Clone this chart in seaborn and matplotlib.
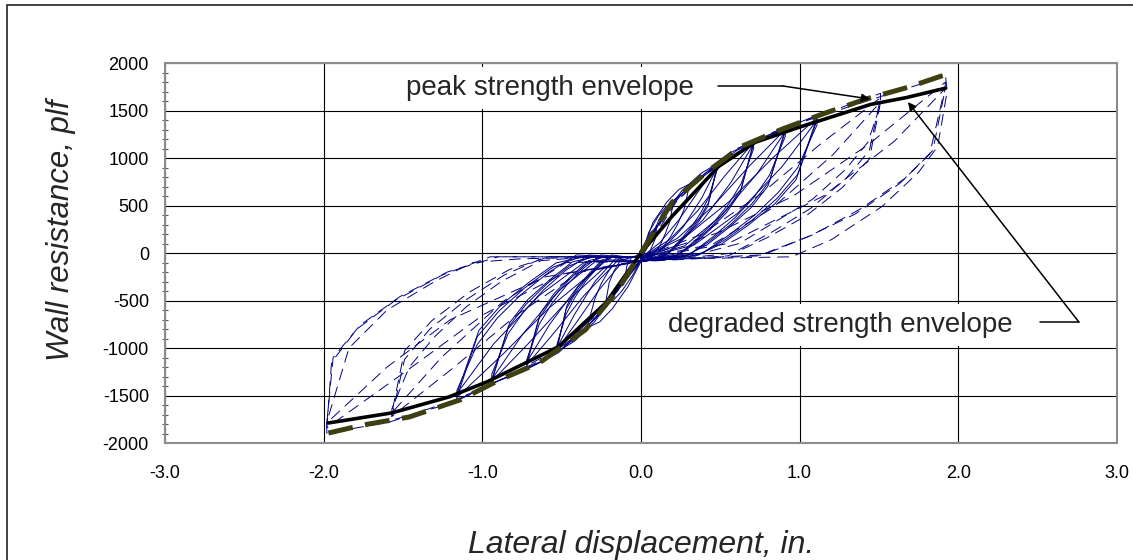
import matplotlib
matplotlib.use("Agg")
import matplotlib.pyplot as plt
import pandas as pd
import seaborn as sns
from matplotlib.patches import Rectangle
from matplotlib.ticker import MultipleLocator, FormatStrFormatter

# hysteresis cycles, (displacement in., resistance plf)
# small cycles
c010 = [(0, -20), (0.03, 120), (0.06, 210), (0.10, 280), (0.09, 150), (0.06, 30), (0.02, -40),
        (0, -60), (-0.03, -130), (-0.06, -200), (-0.10, -270), (-0.09, -140), (-0.06, -50), (-0.02, -20), (0, 0)]
c020 = [(0, -30), (0.05, 220), (0.11, 390), (0.16, 490), (0.20, 530), (0.20, 490), (0.18, 320), (0.15, 190),
        (0.12, 80), (0.08, -10), (0.04, -60), (0, -80), (-0.055, -240), (-0.12, -400), (-0.175, -500),
        (-0.22, -540), (-0.22, -500), (-0.20, -310), (-0.17, -190), (-0.13, -80), (-0.09, -60), (-0.04, -40), (0, -40)]
c030 = [(0, -40), (0.075, 320), (0.165, 540), (0.24, 670), (0.30, 720), (0.30, 670), (0.27, 450), (0.23, 300),
        (0.19, 180), (0.14, 60), (0.06, -60), (0, -90), (-0.08, -350), (-0.18, -585), (-0.26, -725),
        (-0.33, -780), (-0.33, -725), (-0.29, -480), (-0.25, -320), (-0.20, -180), (-0.14, -60), (-0.07, -40), (0, -50)]

# 0.5 in. level
c048a = [(0, -50), (0.06, 160), (0.14, 390), (0.26, 660), (0.38, 840), (0.48, 940), (0.48, 875), (0.427, 583),
         (0.374, 414), (0.312, 263), (0.24, 122), (0.168, 0), (0.086, -40),
         (0, -80), (-0.06, -160), (-0.16, -420), (-0.29, -720), (-0.42, -930), (-0.53, -1040), (-0.53, -967),
         (-0.472, -645), (-0.413, -458), (-0.345, -291), (-0.265, -135), (-0.186, -20), (-0.095, -40), (0, -40)]
c048b = [(0, -50), (0.12, 110), (0.24, 350), (0.36, 645), (0.48, 920), (0.427, 534), (0.37, 368), (0.302, 221),
         (0.23, 92), (0.158, -20), (0.082, -50),
         (0, -80), (-0.13, -120), (-0.265, -390), (-0.40, -715), (-0.53, -1020), (-0.472, -592), (-0.408, -408),
         (-0.334, -245), (-0.254, -102), (-0.175, -40), (-0.09, -40), (0, -40)]
c048c = [(0, -60), (0.145, 55), (0.265, 270), (0.385, 585), (0.48, 900), (0.422, 495), (0.365, 333), (0.293, 189),
         (0.221, 63), (0.149, -30), (0.072, -60),
         (0, -90), (-0.16, -60), (-0.29, -300), (-0.42, -650), (-0.53, -1000), (-0.466, -550), (-0.403, -370),
         (-0.323, -210), (-0.244, -70), (-0.164, -40), (-0.08, -40), (0, -40)]

# 0.7 in. level
c071a = [(0, -50), (0.085, 230), (0.21, 560), (0.39, 820), (0.57, 1060), (0.71, 1180), (0.71, 1097), (0.632, 732),
         (0.554, 519), (0.462, 330), (0.355, 153), (0.249, 0), (0.128, -40),
         (0, -80), (-0.085, -230), (-0.215, -560), (-0.40, -880), (-0.575, -1100), (-0.72, -1210), (-0.72, -1125),
         (-0.641, -750), (-0.562, -532), (-0.468, -339), (-0.36, -157), (-0.252, -20), (-0.13, -40), (0, -40)]
c071b = [(0, -50), (0.18, 140), (0.355, 440), (0.53, 815), (0.71, 1165), (0.632, 676), (0.547, 466), (0.447, 280),
         (0.341, 117), (0.234, -20), (0.121, -50),
         (0, -80), (-0.18, -140), (-0.36, -450), (-0.54, -825), (-0.72, -1180), (-0.641, -684), (-0.554, -472),
         (-0.454, -283), (-0.346, -118), (-0.238, -40), (-0.122, -40), (0, -40)]
c071c = [(0, -60), (0.21, 70), (0.39, 345), (0.57, 750), (0.71, 1150), (0.625, 633), (0.54, 426), (0.433, 242),
         (0.327, 81), (0.22, -30), (0.107, -60),
         (0, -90), (-0.215, -70), (-0.395, -345), (-0.575, -750), (-0.72, -1150), (-0.634, -633), (-0.547, -426),
         (-0.439, -242), (-0.331, -81), (-0.223, -40), (-0.108, -40), (0, -40)]

# 0.9 in. level
c091a = [(0, -50), (0.11, 300), (0.27, 650), (0.50, 940), (0.73, 1190), (0.91, 1320), (0.91, 1228), (0.81, 818),
         (0.71, 581), (0.592, 370), (0.455, 172), (0.319, 0), (0.164, -40),
         (0, -80), (-0.11, -300), (-0.28, -680), (-0.52, -1050), (-0.75, -1250), (-0.94, -1370), (-0.94, -1274),
         (-0.837, -849), (-0.733, -603), (-0.611, -384), (-0.47, -178), (-0.329, -20), (-0.169, -40), (0, -40)]
c091b = [(0, -50), (0.23, 155), (0.455, 495), (0.68, 910), (0.91, 1300), (0.81, 754), (0.70, 520), (0.573, 312),
         (0.437, 130), (0.30, -20), (0.155, -50),
         (0, -80), (-0.235, -160), (-0.47, -515), (-0.705, -945), (-0.94, -1350), (-0.837, -783), (-0.724, -540),
         (-0.592, -324), (-0.451, -135), (-0.31, -40), (-0.16, -40), (0, -40)]
c091c = [(0, -60), (0.275, 75), (0.50, 385), (0.73, 830), (0.91, 1280), (0.80, 704), (0.692, 474), (0.555, 269),
         (0.419, 90), (0.282, -30), (0.137, -60),
         (0, -90), (-0.28, -80), (-0.52, -400), (-0.75, -865), (-0.94, -1330), (-0.827, -732), (-0.714, -492),
         (-0.573, -279), (-0.432, -93), (-0.291, -40), (-0.141, -40), (0, -40)]

# 1.1 in. level
c111a = [(0, -50), (0.135, 420), (0.335, 750), (0.61, 1085), (0.89, 1300), (1.11, 1450), (1.11, 1349), (0.988, 899),
         (0.866, 638), (0.722, 406), (0.555, 189), (0.389, 0), (0.20, -40),
         (0, -80), (-0.14, -380), (-0.35, -800), (-0.64, -1156), (-0.93, -1370), (-1.16, -1555), (-1.16, -1446),
         (-1.032, -964), (-0.905, -684), (-0.754, -435), (-0.58, -202), (-0.406, -20), (-0.209, -40), (0, -40)]
c111b = [(0, -50), (0.28, 170), (0.555, 540), (0.83, 1000), (1.11, 1425), (0.988, 827), (0.855, 570), (0.699, 342),
         (0.533, 143), (0.366, -20), (0.189, -50),
         (0, -80), (-0.29, -180), (-0.58, -580), (-0.87, -1065), (-1.16, -1520), (-1.032, -882), (-0.893, -608),
         (-0.731, -365), (-0.557, -152), (-0.383, -40), (-0.197, -40), (0, -40)]
c111c = [(0, -60), (0.335, 85), (0.61, 420), (0.89, 910), (1.11, 1400), (0.977, 770), (0.844, 518), (0.677, 294),
         (0.511, 98), (0.344, -30), (0.167, -60),
         (0, -90), (-0.35, -90), (-0.64, -445), (-0.93, -960), (-1.16, -1480), (-1.021, -814), (-0.882, -548),
         (-0.708, -311), (-0.534, -104), (-0.36, -40), (-0.174, -40), (0, -40)]

# 1.5 in. level
c151a = [(0, -50), (0.18, 480), (0.455, 890), (0.83, 1270), (1.21, 1500), (1.51, 1680), (1.51, 1560), (1.43, 1165),
         (1.29, 880), (1.08, 564), (0.87, 353), (0.62, 100), (0.30, -40),
         (0, -80), (-0.19, -480), (-0.47, -960), (-0.865, -1320), (-1.255, -1610), (-1.57, -1760), (-1.57, -1640),
         (-1.46, -1200), (-1.30, -880), (-1.10, -565), (-0.88, -300), (-0.63, -80), (-0.31, -40), (0, -40)]
c151b = [(0, -50), (0.38, 195), (0.755, 620), (1.13, 1145), (1.51, 1635), (1.44, 1080), (1.29, 780), (1.07, 470),
         (0.83, 225), (0.58, 0), (0.30, -50),
         (0, -80), (-0.39, -205), (-0.785, -655), (-1.18, -1205), (-1.57, -1720), (-1.49, -1120), (-1.33, -800),
         (-1.10, -490), (-0.86, -230), (-0.60, -40), (-0.31, -40), (0, -40)]
c151c = [(0, -60), (0.455, 95), (0.83, 475), (1.21, 1035), (1.51, 1590), (1.44, 990), (1.27, 690), (1.04, 390),
         (0.80, 165), (0.55, -30), (0.27, -60),
         (0, -90), (-0.47, -100), (-0.865, -505), (-1.255, -1095), (-1.57, -1683), (-1.49, -1030), (-1.32, -715),
         (-1.08, -410), (-0.83, -175), (-0.58, -40), (-0.28, -40), (0, -40)]

# 1.9 in. level
c192a = [(0, -50), (0.23, 560), (0.575, 1080), (1.055, 1400), (1.535, 1660), (1.92, 1860), (1.93, 1700), (1.87, 1120),
         (1.75, 850), (1.52, 490), (1.20, 140), (0.95, -40), (0.62, -50), (0.30, -60),
         (0, -80), (-0.24, -600), (-0.595, -1100), (-1.09, -1500), (-1.585, -1780), (-1.98, -1895), (-1.98, -1780),
         (-1.84, -1000), (-1.60, -600), (-1.30, -300), (-1.06, -100), (-0.75, -60), (-0.40, -50), (0, -40)]
c192b = [(0, -50), (0.48, 210), (0.96, 600), (1.44, 1150), (1.92, 1800), (1.91, 1660), (1.84, 1080), (1.66, 780),
         (1.38, 460), (1.08, 190), (0.77, -20), (0.38, -50),
         (0, -80), (-0.495, -220), (-0.99, -645), (-1.485, -1250), (-1.98, -1840), (-1.95, -1150), (-1.79, -800),
         (-1.55, -500), (-1.25, -230), (-0.95, -40), (-0.40, -40), (0, -40)]
c192c = [(0, -60), (0.55, 100), (1.15, 600), (1.60, 1180), (1.92, 1735), (1.90, 1620), (1.82, 1040), (1.63, 730),
         (1.35, 410), (1.05, 170), (0.74, -30), (0.35, -60),
         (0, -90), (-0.60, -250), (-1.20, -700), (-1.60, -1200), (-1.98, -1789), (-1.94, -1100), (-1.77, -760),
         (-1.52, -460), (-1.22, -200), (-0.90, -40), (-0.40, -40), (0, -40)]

solid_cycles = [c010, c020, c030, c048a, c048b, c048c, c071a, c071b, c071c,
                c091a, c091b, c091c, c111a, c111b, c111c]
dashed_cycles = [c151a, c151b, c151c, c192a, c192b, c192c]

# envelopes
peak_x = [-1.97, -1.75, -1.46, -1.14, -0.89, -0.64, -0.35, -0.15, 0.0, 0.195, 0.41, 0.635, 0.887, 1.14, 1.415, 1.685, 1.89, 1.92]
peak_y = [-1895, -1810, -1726, -1546, -1335, -1156, -808, -400, 0, 532, 848, 1123, 1302, 1460, 1619, 1745, 1861, 1875]
degr_x = [-1.97, -1.57, -1.21, -0.97, -0.52, -0.22, 0.0, 0.195, 0.49, 0.72, 0.99, 1.45, 1.67, 1.92]
degr_y = [-1789, -1683, -1515, -1356, -987, -523, 0, 384, 912, 1165, 1320, 1565, 1635, 1735]


def to_frame(cycles):
    rows = []
    for i, pts in enumerate(cycles):
        for d, f in pts:
            rows.append({'cycle': i, 'disp': d, 'load': f})
    return pd.DataFrame(rows)


sns.set_style("white")
plt.rcParams['font.family'] = ['Liberation Sans', 'DejaVu Sans']
plt.rcParams['axes.unicode_minus'] = False

fig = plt.figure(figsize=(11.33, 5.6), dpi=100)
ax = fig.add_axes([0.1456, 0.2089, 0.8402, 0.6786])

sns.lineplot(data=to_frame(solid_cycles), x='disp', y='load', units='cycle', estimator=None, sort=False,
             color='#000080', lw=0.7, ax=ax)
sns.lineplot(data=to_frame(dashed_cycles), x='disp', y='load', units='cycle', estimator=None, sort=False,
             color='#000080', lw=0.7, linestyle=(0, (12, 7)), ax=ax)
sns.lineplot(x=degr_x, y=degr_y, sort=False, color='black', lw=2.6, ax=ax)
sns.lineplot(x=peak_x, y=peak_y, sort=False, color='#3f3f14', lw=3.6, linestyle=(0, (5, 2.5)), ax=ax)

ax.set_xlim(-3, 3)
ax.set_ylim(-2000, 2000)
ax.xaxis.set_major_locator(MultipleLocator(1.0))
ax.xaxis.set_major_formatter(FormatStrFormatter('%.1f'))
ax.yaxis.set_major_locator(MultipleLocator(500))
ax.yaxis.set_minor_locator(MultipleLocator(100))
ax.grid(True, which='major', color='black', lw=0.8)
ax.set_axisbelow(True)
for s in ax.spines.values():
    s.set_color('#8c8c8c')
    s.set_linewidth(1.5)
ax.tick_params(axis='both', which='both', direction='inout', colors='#555555', labelcolor='black', labelsize=13)
ax.tick_params(axis='both', which='major', length=7, width=1)
ax.tick_params(axis='y', which='minor', length=4, width=0.8, left=True)
ax.tick_params(axis='x', pad=12)
ax.tick_params(axis='y', pad=8)

ax.set_xlabel('Lateral displacement, in.', fontsize=23, style='italic', va='center')
ax.set_ylabel('Wall resistance, plf', fontsize=22.5, style='italic', va='center')
ax.xaxis.set_label_coords(0.5, -0.268)
ax.yaxis.set_label_coords(-0.109, 0.56)

box = dict(boxstyle='square,pad=0.3', fc='white', ec='none')
ax.text(-0.573, 1737, 'peak strength envelope', fontsize=20, ha='center', va='center', bbox=box, zorder=5)
ax.plot([0.485, 0.895], [1758, 1758], color='black', lw=1.1, zorder=6)
ax.annotate('', xy=(1.443, 1621), xytext=(0.895, 1758),
            arrowprops=dict(arrowstyle='-|>', color='black', lw=1.1, mutation_scale=12, shrinkA=0, shrinkB=0),
            zorder=6)

ax.text(1.254, -758, 'degraded strength envelope', fontsize=20, ha='center', va='center', bbox=box, zorder=5)
ax.plot([2.515, 2.76], [-726, -726], color='black', lw=1.1, zorder=6)
ax.annotate('', xy=(1.683, 1589), xytext=(2.76, -726),
            arrowprops=dict(arrowstyle='-|>', color='black', lw=1.1, mutation_scale=12, shrinkA=0, shrinkB=0),
            zorder=6)

fig.add_artist(Rectangle((7 / 1133, -0.1), 1.2, 1.1 - 5 / 560, transform=fig.transFigure,
                         fill=False, ec='#222222', lw=1.2))

fig.savefig('out.png', dpi=100)
